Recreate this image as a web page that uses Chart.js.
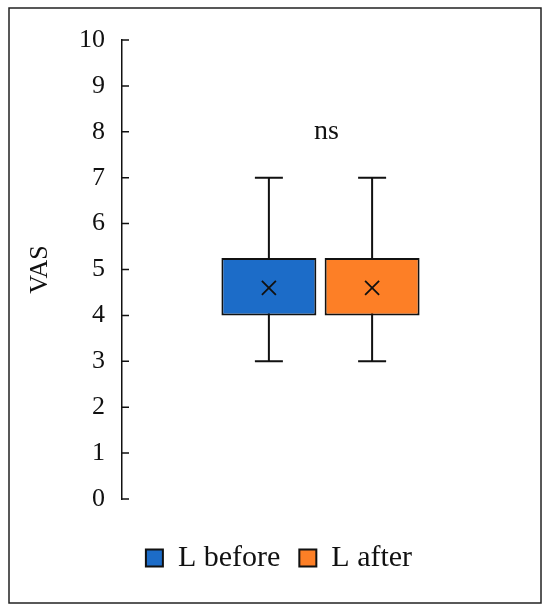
<!DOCTYPE html>
<html>
<head>
<meta charset="utf-8">
<script src="https://cdn.jsdelivr.net/npm/chart.js@4/dist/chart.umd.min.js"></script>
<style>
  html, body { margin: 0; padding: 0; background: #fff; }
  #wrap { width: 550px; height: 613px; }
</style>
</head>
<body>
<div id="wrap"><canvas id="boxChart"></canvas></div>
<script>
// box plot data (VAS)
var seriesNames = ["L before", "L after"];
var seriesColors = ["#1C6CC8", "#FD7F26"];
var q1Values = [4, 4];
var q3Values = [5.25, 5.25];
var minValues = [3, 3];
var maxValues = [7, 7];
var meanValues = [4.6, 4.6];
var yTicks = [0, 1, 2, 3, 4, 5, 6, 7, 8, 9, 10];
var sigLabel = "ns";
var sigValue = 8;

var serif = "'Liberation Serif', 'DejaVu Serif', serif";

var datasets = seriesNames.map(function (name, i) {
    return {
        label: name,
        data: [[q1Values[i], q3Values[i]]],
        backgroundColor: seriesColors[i],
        borderColor: "#111111",
        borderWidth: 2,
        borderSkipped: false,
        categoryPercentage: 0.52,
        barPercentage: 0.92
    };
});

var boxExtras = {
    id: "boxExtras",
    afterLayout: function (chart) {
        // nudge legend a bit right, as in the original figure
        chart.legend.left += 7;
        chart.legend.right += 7;
    },
    beforeDraw: function (chart) {
        var ctx = chart.ctx;
        ctx.save();
        ctx.strokeStyle = "#222";
        ctx.lineWidth = 1.5;
        ctx.strokeRect(9, 8, 532, 595);
        ctx.restore();
    },
    beforeDatasetsDraw: function (chart) {
        var ctx = chart.ctx;
        var y = chart.scales.y;
        ctx.save();
        ctx.strokeStyle = "#111";
        ctx.lineWidth = 2;
        chart.data.datasets.forEach(function (ds, i) {
            var bar = chart.getDatasetMeta(i).data[0];
            var cx = bar.x;
            var yMin = y.getPixelForValue(minValues[i]);
            var yMax = y.getPixelForValue(maxValues[i]);
            ctx.beginPath();
            ctx.moveTo(cx, yMin); ctx.lineTo(cx, yMax);
            ctx.moveTo(cx - 14, yMin); ctx.lineTo(cx + 14, yMin);
            ctx.moveTo(cx - 14, yMax); ctx.lineTo(cx + 14, yMax);
            ctx.stroke();
        });
        ctx.restore();
    },
    afterDatasetsDraw: function (chart) {
        var ctx = chart.ctx;
        var y = chart.scales.y;
        ctx.save();
        ctx.strokeStyle = "#111";
        ctx.lineWidth = 1.8;
        chart.data.datasets.forEach(function (ds, i) {
            var bar = chart.getDatasetMeta(i).data[0];
            var cx = bar.x;
            var my = y.getPixelForValue(meanValues[i]);
            var s = 7;
            ctx.beginPath();
            ctx.moveTo(cx - s, my - s); ctx.lineTo(cx + s, my + s);
            ctx.moveTo(cx + s, my - s); ctx.lineTo(cx - s, my + s);
            ctx.stroke();
        });
        // significance label
        var area = chart.chartArea;
        ctx.fillStyle = "#111";
        ctx.font = "28px " + serif;
        ctx.textAlign = "center";
        ctx.textBaseline = "middle";
        ctx.fillText(sigLabel, (area.left + area.right) / 2 + 6, y.getPixelForValue(sigValue));
        // inward tick marks
        ctx.strokeStyle = "#111";
        ctx.lineWidth = 1.5;
        ctx.beginPath();
        y.ticks.forEach(function (t) {
            var py = y.getPixelForValue(t.value);
            ctx.moveTo(area.left, py); ctx.lineTo(area.left + 7, py);
        });
        ctx.stroke();
        ctx.restore();
    }
};

var boxChart = new Chart(document.getElementById("boxChart"), {
    type: "bar",
    data: { labels: [""], datasets: datasets },
    options: {
        responsive: true,
        maintainAspectRatio: false,
        animation: false,
        layout: { padding: { left: 25, right: 31, top: 40, bottom: 30 } },
        plugins: {
            tooltip: { enabled: false },
            legend: {
                position: "bottom",
                labels: {
                    boxWidth: 17,
                    boxHeight: 17,
                    color: "#111",
                    font: { family: serif, size: 30 },
                    padding: 19
                }
            }
        },
        scales: {
            x: {
                grid: { display: false },
                border: { display: false },
                ticks: { display: false },
                afterFit: function (scale) { scale.height = 25; }
            },
            y: {
                min: 0,
                max: 10,
                afterBuildTicks: function (scale) {
                    scale.ticks = yTicks.map(function (v) { return { value: v }; });
                },
                grid: { display: false },
                border: { display: true, color: "#111", width: 1.5 },
                ticks: {
                    color: "#111",
                    font: { family: serif, size: 26 },
                    padding: 9
                },
                title: {
                    display: true,
                    text: "VAS",
                    color: "#111",
                    font: { family: serif, size: 26 },
                    padding: 0
                },
                afterFit: function (scale) { scale.width = 97; }
            }
        }
    },
    plugins: [boxExtras]
});
</script>
</body>
</html>
